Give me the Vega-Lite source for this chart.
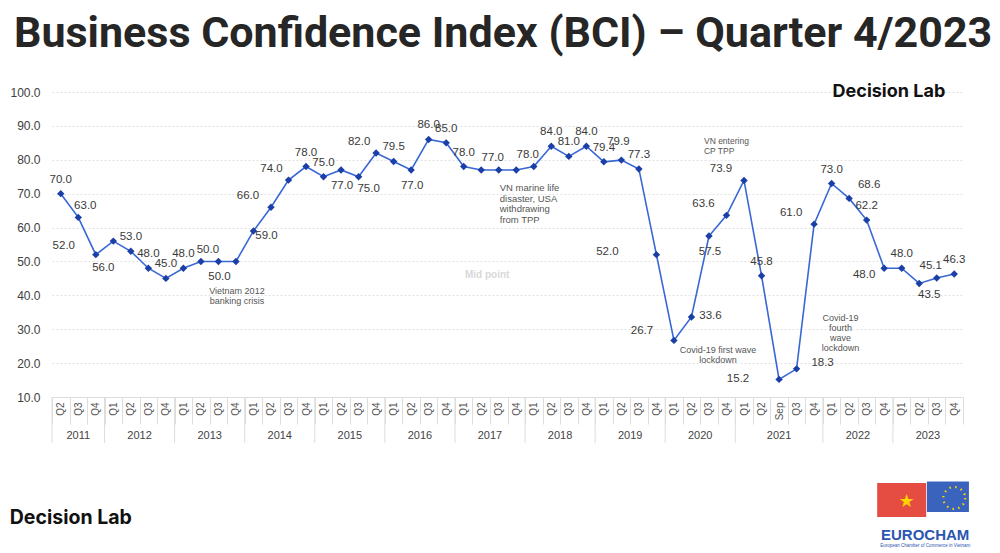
{
  "$schema": "https://vega.github.io/schema/vega-lite/v6.json",
  "width": 911,
  "height": 305,
  "autosize": "none",
  "padding": {"left": 52, "top": 92, "right": 37, "bottom": 156},
  "background": "white",
  "title": {"text": "Business Confidence Index (BCI) – Quarter 4/2023", "anchor": "start", "frame": "group", "dx": -38, "offset": 27, "fontSize": 43, "font": "Roboto", "fontWeight": "bold", "color": "#262626"},
  "config": {"view": {"stroke": null}},
  "data": {"values": [
    {"period": "2011 Q2", "year": "2011", "value": 70.0},
    {"period": "2011 Q3", "year": "2011", "value": 63.0},
    {"period": "2011 Q4", "year": "2011", "value": 52.0},
    {"period": "2012 Q1", "year": "2012", "value": 56.0},
    {"period": "2012 Q2", "year": "2012", "value": 53.0},
    {"period": "2012 Q3", "year": "2012", "value": 48.0},
    {"period": "2012 Q4", "year": "2012", "value": 45.0},
    {"period": "2013 Q1", "year": "2013", "value": 48.0},
    {"period": "2013 Q2", "year": "2013", "value": 50.0},
    {"period": "2013 Q3", "year": "2013", "value": 50.0},
    {"period": "2013 Q4", "year": "2013", "value": 50.0},
    {"period": "2014 Q1", "year": "2014", "value": 59.0},
    {"period": "2014 Q2", "year": "2014", "value": 66.0},
    {"period": "2014 Q3", "year": "2014", "value": 74.0},
    {"period": "2014 Q4", "year": "2014", "value": 78.0},
    {"period": "2015 Q1", "year": "2015", "value": 75.0},
    {"period": "2015 Q2", "year": "2015", "value": 77.0},
    {"period": "2015 Q3", "year": "2015", "value": 75.0},
    {"period": "2015 Q4", "year": "2015", "value": 82.0},
    {"period": "2016 Q1", "year": "2016", "value": 79.5},
    {"period": "2016 Q2", "year": "2016", "value": 77.0},
    {"period": "2016 Q3", "year": "2016", "value": 86.0},
    {"period": "2016 Q4", "year": "2016", "value": 85.0},
    {"period": "2017 Q1", "year": "2017", "value": 78.0},
    {"period": "2017 Q2", "year": "2017", "value": 77.0},
    {"period": "2017 Q3", "year": "2017", "value": 77.0},
    {"period": "2017 Q4", "year": "2017", "value": 77.0},
    {"period": "2018 Q1", "year": "2018", "value": 78.0},
    {"period": "2018 Q2", "year": "2018", "value": 84.0},
    {"period": "2018 Q3", "year": "2018", "value": 81.0},
    {"period": "2018 Q4", "year": "2018", "value": 84.0},
    {"period": "2019 Q1", "year": "2019", "value": 79.4},
    {"period": "2019 Q2", "year": "2019", "value": 79.9},
    {"period": "2019 Q3", "year": "2019", "value": 77.3},
    {"period": "2019 Q4", "year": "2019", "value": 52.0},
    {"period": "2020 Q1", "year": "2020", "value": 26.7},
    {"period": "2020 Q2", "year": "2020", "value": 33.6},
    {"period": "2020 Q3", "year": "2020", "value": 57.5},
    {"period": "2020 Q4", "year": "2020", "value": 63.6},
    {"period": "2021 Q1", "year": "2021", "value": 73.9},
    {"period": "2021 Q2", "year": "2021", "value": 45.8},
    {"period": "2021 Sep", "year": "2021", "value": 15.2},
    {"period": "2021 Q3", "year": "2021", "value": 18.3},
    {"period": "2021 Q4", "year": "2021", "value": 61.0},
    {"period": "2022 Q1", "year": "2022", "value": 73.0},
    {"period": "2022 Q2", "year": "2022", "value": 68.6},
    {"period": "2022 Q3", "year": "2022", "value": 62.2},
    {"period": "2022 Q4", "year": "2022", "value": 48.0},
    {"period": "2023 Q1", "year": "2023", "value": 48.0},
    {"period": "2023 Q2", "year": "2023", "value": 43.5},
    {"period": "2023 Q3", "year": "2023", "value": 45.1},
    {"period": "2023 Q4", "year": "2023", "value": 46.3}
  ]},
  "encoding": {
    "x": {"field": "period", "type": "ordinal", "bandPosition": 0.5, "title": null,
      "scale": {"type": "band", "paddingInner": 0, "paddingOuter": 0,
        "domain": ["2011 Q2","2011 Q3","2011 Q4","2012 Q1","2012 Q2","2012 Q3","2012 Q4","2013 Q1","2013 Q2","2013 Q3","2013 Q4","2014 Q1","2014 Q2","2014 Q3","2014 Q4","2015 Q1","2015 Q2","2015 Q3","2015 Q4","2016 Q1","2016 Q2","2016 Q3","2016 Q4","2017 Q1","2017 Q2","2017 Q3","2017 Q4","2018 Q1","2018 Q2","2018 Q3","2018 Q4","2019 Q1","2019 Q2","2019 Q3","2019 Q4","2020 Q1","2020 Q2","2020 Q3","2020 Q4","2021 Q1","2021 Q2","2021 Sep","2021 Q3","2021 Q4","2022 Q1","2022 Q2","2022 Q3","2022 Q4","2023 Q1","2023 Q2","2023 Q3","2023 Q4"]},
      "axis": {"title": null, "labelExpr": "split(datum.value, ' ')[1]", "labelAngle": -90, "labelFontSize": 10, "labelColor": "#555555", "labelFont": "Liberation Sans", "tickBand": "extent", "tickSize": 27, "tickColor": "#dddddd", "domainColor": "#dddddd", "labelPadding": -22, "grid": false}},
    "y": {"field": "value", "type": "quantitative", "title": null,
      "scale": {"domain": [10, 100], "nice": false, "zero": false},
      "axis": {"title": null, "values": [10, 20, 30, 40, 50, 60, 70, 80, 90, 100], "format": ".1f", "domain": false, "ticks": false, "labelPadding": 12, "labelFontSize": 12, "labelColor": "#404040", "labelFont": "Liberation Sans", "gridColor": "#e2e2e2", "gridDash": [2, 2], "gridWidth": 1}}
  },
  "layer": [
    {"mark": {"type": "line", "color": "#3867d6", "strokeWidth": 1.6}},
    {"mark": {"type": "point", "shape": "diamond", "filled": true, "color": "#1b3fa6", "size": 55, "opacity": 1}},
    {"transform": [{"filter": {"field": "period", "oneOf": ["2011 Q2","2012 Q2","2012 Q3","2012 Q4","2013 Q1","2014 Q4","2015 Q1","2016 Q1","2016 Q3","2016 Q4","2017 Q1","2018 Q2","2018 Q3","2018 Q4","2019 Q1","2019 Q3","2021 Q2","2022 Q1","2022 Q3","2023 Q1","2023 Q4"]}}],
     "mark": {"type": "text", "dx": 0, "dy": -14, "fontSize": 11.5, "font": "Liberation Sans", "color": "#3a3a3a"},
     "encoding": {"text": {"field": "value", "type": "quantitative", "format": ".1f"}}},
    {"transform": [{"filter": {"field": "period", "oneOf": ["2011 Q3","2013 Q2"]}}],
     "mark": {"type": "text", "dx": 7, "dy": -11, "fontSize": 11.5, "font": "Liberation Sans", "color": "#3a3a3a"},
     "encoding": {"text": {"field": "value", "type": "quantitative", "format": ".1f"}}},
    {"transform": [{"filter": {"field": "period", "oneOf": ["2022 Q2"]}}],
     "mark": {"type": "text", "dx": 20, "dy": -13, "fontSize": 11.5, "font": "Liberation Sans", "color": "#3a3a3a"},
     "encoding": {"text": {"field": "value", "type": "quantitative", "format": ".1f"}}},
    {"transform": [{"filter": {"field": "period", "oneOf": ["2017 Q3","2018 Q1","2023 Q3"]}}],
     "mark": {"type": "text", "dx": -6, "dy": -12, "fontSize": 11.5, "font": "Liberation Sans", "color": "#3a3a3a"},
     "encoding": {"text": {"field": "value", "type": "quantitative", "format": ".1f"}}},
    {"transform": [{"filter": {"field": "period", "oneOf": ["2015 Q4","2014 Q3"]}}],
     "mark": {"type": "text", "dx": -17, "dy": -11, "fontSize": 11.5, "font": "Liberation Sans", "color": "#3a3a3a"},
     "encoding": {"text": {"field": "value", "type": "quantitative", "format": ".1f"}}},
    {"transform": [{"filter": {"field": "period", "oneOf": ["2014 Q2","2020 Q4","2021 Q1","2021 Q4"]}}],
     "mark": {"type": "text", "dx": -23, "dy": -11, "fontSize": 11.5, "font": "Liberation Sans", "color": "#3a3a3a"},
     "encoding": {"text": {"field": "value", "type": "quantitative", "format": ".1f"}}},
    {"transform": [{"filter": {"field": "period", "oneOf": ["2011 Q4","2020 Q1"]}}],
     "mark": {"type": "text", "dx": -32, "dy": -9, "fontSize": 11.5, "font": "Liberation Sans", "color": "#3a3a3a"},
     "encoding": {"text": {"field": "value", "type": "quantitative", "format": ".1f"}}},
    {"transform": [{"filter": {"field": "period", "oneOf": ["2019 Q4"]}}],
     "mark": {"type": "text", "dx": -49, "dy": -3, "fontSize": 11.5, "font": "Liberation Sans", "color": "#3a3a3a"},
     "encoding": {"text": {"field": "value", "type": "quantitative", "format": ".1f"}}},
    {"transform": [{"filter": {"field": "period", "oneOf": ["2021 Sep"]}}],
     "mark": {"type": "text", "dx": -41, "dy": 0, "fontSize": 11.5, "font": "Liberation Sans", "color": "#3a3a3a"},
     "encoding": {"text": {"field": "value", "type": "quantitative", "format": ".1f"}}},
    {"transform": [{"filter": {"field": "period", "oneOf": ["2013 Q3","2015 Q2","2016 Q2","2020 Q3"]}}],
     "mark": {"type": "text", "dx": 1, "dy": 16, "fontSize": 11.5, "font": "Liberation Sans", "color": "#3a3a3a"},
     "encoding": {"text": {"field": "value", "type": "quantitative", "format": ".1f"}}},
    {"transform": [{"filter": {"field": "period", "oneOf": ["2012 Q1"]}}],
     "mark": {"type": "text", "dx": -10, "dy": 27, "fontSize": 11.5, "font": "Liberation Sans", "color": "#3a3a3a"},
     "encoding": {"text": {"field": "value", "type": "quantitative", "format": ".1f"}}},
    {"transform": [{"filter": {"field": "period", "oneOf": ["2022 Q4"]}}],
     "mark": {"type": "text", "dx": -20, "dy": 7, "fontSize": 11.5, "font": "Liberation Sans", "color": "#3a3a3a"},
     "encoding": {"text": {"field": "value", "type": "quantitative", "format": ".1f"}}},
    {"transform": [{"filter": {"field": "period", "oneOf": ["2015 Q3","2023 Q2"]}}],
     "mark": {"type": "text", "dx": 10, "dy": 12, "fontSize": 11.5, "font": "Liberation Sans", "color": "#3a3a3a"},
     "encoding": {"text": {"field": "value", "type": "quantitative", "format": ".1f"}}},
    {"transform": [{"filter": {"field": "period", "oneOf": ["2014 Q1"]}}],
     "mark": {"type": "text", "dx": 13, "dy": 5, "fontSize": 11.5, "font": "Liberation Sans", "color": "#3a3a3a"},
     "encoding": {"text": {"field": "value", "type": "quantitative", "format": ".1f"}}},
    {"transform": [{"filter": {"field": "period", "oneOf": ["2020 Q2"]}}],
     "mark": {"type": "text", "dx": 19, "dy": -1, "fontSize": 11.5, "font": "Liberation Sans", "color": "#3a3a3a"},
     "encoding": {"text": {"field": "value", "type": "quantitative", "format": ".1f"}}},
    {"transform": [{"filter": {"field": "period", "oneOf": ["2021 Q3"]}}],
     "mark": {"type": "text", "dx": 26, "dy": -6, "fontSize": 11.5, "font": "Liberation Sans", "color": "#3a3a3a"},
     "encoding": {"text": {"field": "value", "type": "quantitative", "format": ".1f"}}},
    {"transform": [{"filter": {"field": "period", "oneOf": ["2019 Q2"]}}],
     "mark": {"type": "text", "dx": -3, "dy": -18, "fontSize": 11.5, "font": "Liberation Sans", "color": "#3a3a3a"},
     "encoding": {"text": {"field": "value", "type": "quantitative", "format": ".1f"}}},
    {"transform": [{"filter": {"field": "period", "oneOf": ["2011 Q2","2012 Q1","2013 Q1","2014 Q1","2015 Q1","2016 Q1","2017 Q1","2018 Q1","2019 Q1","2020 Q1","2021 Q1","2022 Q1","2023 Q1"]}}],
     "mark": {"type": "rule", "color": "#dddddd", "strokeWidth": 1},
     "encoding": {"x": {"field": "period", "type": "ordinal", "bandPosition": 0, "title": null}, "y": {"datum": 10, "title": null}, "y2": {"datum": -3.6}}},
    {"transform": [{"filter": {"field": "period", "oneOf": ["2012 Q3","2013 Q3","2014 Q3","2015 Q3","2016 Q3","2017 Q3","2018 Q3","2019 Q3","2020 Q3","2022 Q3","2023 Q3"]}}],
     "mark": {"type": "text", "fontSize": 11, "font": "Liberation Sans", "color": "#444444"},
     "encoding": {"x": {"field": "period", "type": "ordinal", "bandPosition": 0, "title": null}, "y": {"datum": -1.5, "title": null}, "text": {"field": "year"}}},
    {"transform": [{"filter": {"field": "period", "oneOf": ["2011 Q3","2021 Sep"]}}],
     "mark": {"type": "text", "fontSize": 11, "font": "Liberation Sans", "color": "#444444"},
     "encoding": {"y": {"datum": -1.5, "title": null}, "text": {"field": "year"}}},
    {"transform": [{"filter": {"field": "period", "equal": "2013 Q4"}}],
     "mark": {"type": "text", "text": ["Vietnam 2012", "banking crisis"], "fontSize": 9, "lineHeight": 10.5, "font": "Liberation Sans", "color": "#555555", "dx": 1},
     "encoding": {"y": {"datum": 41.3, "title": null}}},
    {"transform": [{"filter": {"field": "period", "equal": "2017 Q3"}}],
     "mark": {"type": "text", "text": ["VN marine life", "disaster, USA", "withdrawing", "from TPP"], "align": "left", "fontSize": 9.5, "lineHeight": 10.7, "font": "Liberation Sans", "color": "#555555", "dx": 1},
     "encoding": {"y": {"datum": 71.7, "title": null}}},
    {"transform": [{"filter": {"field": "period", "equal": "2020 Q3"}}],
     "mark": {"type": "text", "text": ["VN entering", "CP TPP"], "align": "left", "fontSize": 8.5, "lineHeight": 10, "font": "Liberation Sans", "color": "#555555", "dx": -5},
     "encoding": {"y": {"datum": 85.5, "title": null}}},
    {"transform": [{"filter": {"field": "period", "equal": "2020 Q3"}}],
     "mark": {"type": "text", "text": ["Covid-19 first wave", "lockdown"], "fontSize": 9, "lineHeight": 10, "font": "Liberation Sans", "color": "#555555", "dx": 9},
     "encoding": {"y": {"datum": 23.9, "title": null}}},
    {"transform": [{"filter": {"field": "period", "equal": "2022 Q1"}}],
     "mark": {"type": "text", "text": ["Covid-19", "fourth", "wave", "lockdown"], "fontSize": 9, "lineHeight": 10, "font": "Liberation Sans", "color": "#555555", "dx": 9},
     "encoding": {"y": {"datum": 33.3, "title": null}}},
    {"transform": [{"filter": {"field": "period", "equal": "2017 Q2"}}],
     "mark": {"type": "text", "text": "Mid point", "fontSize": 10, "fontWeight": "bold", "font": "Liberation Sans", "color": "#d9d9d9", "dx": 6},
     "encoding": {"y": {"datum": 46, "title": null}}},
    {"transform": [{"filter": {"field": "period", "equal": "2023 Q4"}}],
     "mark": {"type": "text", "text": "Decision Lab", "align": "right", "fontSize": 18, "fontWeight": "bold", "font": "Inter", "color": "#111111", "dx": -9},
     "encoding": {"y": {"datum": 100, "title": null}}},
    {"transform": [{"filter": {"field": "period", "equal": "2011 Q2"}}],
     "mark": {"type": "text", "text": "Decision Lab", "align": "left", "fontSize": 19.5, "fontWeight": "bold", "font": "Inter", "color": "#111111", "dx": -51},
     "encoding": {"y": {"datum": -25.7, "title": null}}},
    {"transform": [{"filter": {"field": "period", "equal": "2023 Q1"}}],
     "mark": {"type": "point", "shape": "M-1,-0.64L1,-0.64L1,0.75L-1,0.75Z", "size": 2401, "filled": true, "color": "#e23a2e", "opacity": 0.9},
     "encoding": {"y": {"datum": -20, "title": null}}},
    {"transform": [{"filter": {"field": "period", "equal": "2023 Q4"}}],
     "mark": {"type": "point", "shape": "M-1.3,-0.75L0.7,-0.75L0.7,0.7L-1.3,0.7Z", "size": 1764, "filled": true, "color": "#2452b5", "opacity": 0.9},
     "encoding": {"y": {"datum": -19.6, "title": null}}},
    {"transform": [{"filter": {"field": "period", "equal": "2023 Q4"}}],
     "mark": {"type": "point", "shape": "circle", "size": 480, "filled": false, "stroke": "#ffd400", "strokeWidth": 2.2, "strokeDash": [1.5, 4.3], "opacity": 1},
     "encoding": {"y": {"datum": -19.8, "title": null}}},
    {"transform": [{"filter": {"field": "period", "equal": "2023 Q1"}}],
     "mark": {"type": "text", "text": "★", "fontSize": 18, "font": "DejaVu Sans", "color": "#ffd400", "dx": 5, "dy": 1},
     "encoding": {"y": {"datum": -20.6, "title": null}}},
    {"transform": [{"filter": {"field": "period", "equal": "2023 Q2"}}],
     "mark": {"type": "text", "text": "EUROCHAM", "fontSize": 15, "fontWeight": "bold", "font": "Liberation Sans", "color": "#2b55b0", "dx": 6},
     "encoding": {"y": {"datum": -30.7, "title": null}}},
    {"transform": [{"filter": {"field": "period", "equal": "2023 Q2"}}],
     "mark": {"type": "text", "text": "European Chamber of Commerce in Vietnam", "fontSize": 4.5, "font": "Liberation Sans", "color": "#2b55b0", "dx": 6},
     "encoding": {"y": {"datum": -34, "title": null}}}
  ]
}
